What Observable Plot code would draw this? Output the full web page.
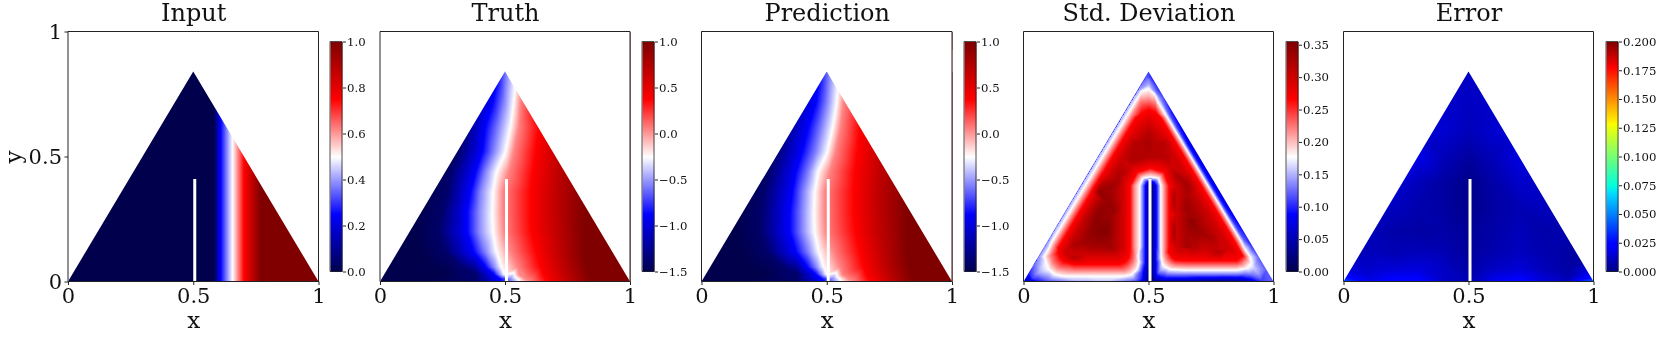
<!DOCTYPE html>
<html>
<head>
<meta charset="utf-8">
<script src="https://cdn.jsdelivr.net/npm/d3@7"></script>
<script src="https://cdn.jsdelivr.net/npm/@observablehq/plot@0.6"></script>
<style>
html,body{margin:0;padding:0;background:#fff;width:1660px;height:337px;overflow:hidden}
#root{position:relative;width:1660px;height:337px;filter:blur(.35px)}
#root svg{position:absolute;top:0;background:transparent;overflow:visible}
</style>
</head>
<body>
<div id="root"></div>
<script>
const titles = ["Input", "Truth", "Prediction", "Std. Deviation", "Error"];
const axisTicks = [0, 0.5, 1];
const triangle = [{x: 0, y: 0}, {x: 0.5, y: 0.84}, {x: 1, y: 0}];
const slit = [{x1: 0.5, x2: 0.512, y1: 0, y2: 0.41}];

// Input: depends on x only
const inputY = [0, 1];
const inputX = [0, 0.58, 0.607, 0.655, 0.70, 0.767, 1];
const inputV = [0, 0, 0.25, 0.5, 0.75, 1, 1];

// Truth / Prediction: x where each level is reached, row by row (first entry = y)
const fieldLevels = [-1.5, -1.5, -1.4, -0.875, -0.55, -0.25, 0.05, 0.375, 0.7, 1, 1];
const truthRows = [
  [.84, 0,.24,.33,.47,.505,.545,.59,.66,.74,.84,1],
  [.72, 0,.22,.34,.45,.495,.533,.56,.62,.72,.83,1],
  [.62, 0,.2,.33,.42,.473,.52,.553,.633,.72,.83,1],
  [.52, 0,.2,.31,.407,.453,.50,.533,.62,.72,.83,1],
  [.44, 0,.18,.28,.38,.42,.464,.513,.61,.713,.83,1],
  [.36, 0,.16,.267,.36,.40,.45,.49,.60,.707,.827,1],
  [.28, 0,.15,.247,.347,.393,.447,.49,.60,.707,.82,1],
  [.20, 0,.14,.233,.347,.393,.45,.495,.604,.713,.813,1],
  [.12, 0,.16,.26,.373,.42,.464,.52,.623,.72,.813,1],
  [.06, 0,.2,.32,.42,.453,.483,.547,.64,.733,.827,1],
  [.03, 0,.26,.38,.455,.475,.495,.555,.65,.74,.835,1],
  [.012, 0,.2,.38,.48,.52,.55,.58,.66,.75,.84,1],
  [0, 0,.1,.35,.48,.525,.555,.60,.67,.755,.85,1]
];
const predictionRows = [
  [.84, 0,.24,.33,.47,.51,.55,.6,.67,.75,.85,1],
  [.72, 0,.22,.33,.455,.50,.538,.565,.63,.72,.83,1],
  [.62, 0,.2,.31,.425,.478,.522,.553,.63,.72,.83,1],
  [.52, 0,.19,.29,.40,.455,.50,.533,.62,.72,.825,1],
  [.44, 0,.17,.265,.375,.425,.463,.51,.61,.715,.825,1],
  [.36, 0,.15,.245,.36,.405,.45,.49,.605,.71,.825,1],
  [.28, 0,.14,.235,.35,.40,.447,.49,.605,.71,.82,1],
  [.20, 0,.14,.233,.35,.40,.449,.495,.613,.713,.82,1],
  [.12, 0,.16,.26,.375,.425,.466,.525,.63,.725,.82,1],
  [.06, 0,.2,.32,.42,.455,.485,.55,.645,.735,.83,1],
  [.03, 0,.26,.38,.455,.477,.497,.56,.655,.745,.835,1],
  [.012, 0,.2,.38,.48,.52,.55,.585,.665,.755,.845,1],
  [0, 0,.1,.35,.48,.525,.555,.605,.675,.76,.855,1]
];

// Std. deviation, read in sections across each feature.
// Left edge: first entry = edge height s, then values at inward distance stdLeftD
const stdLeftD = [0, .0137, .03, .048, .08, .12];
const stdLeftRows = [
  [.16,.14,.1775,.22,.266,.30,.315],
  [.22,.15,.1775,.22,.266,.305,.33],
  [.30,.15,.1775,.22,.266,.31,.345],
  [.38,.15,.1775,.22,.266,.31,.34],
  [.46,.15,.1775,.22,.266,.305,.325],
  [.54,.15,.1775,.22,.266,.30,.32],
  [.62,.15,.1775,.22,.266,.295,.32],
  [.68,.15,.1775,.22,.266,.285],
  [.74,.15,.1775,.22],
  [.77,.14,.1775]
];
// Right edge: same, with its own distances
const stdRightD = [0, .017, .03, .04, .052, .085, .125];
const stdRightRows = [
  [.18,.10,.12,.1775,.22,.266,.30,.315],
  [.24,.085,.11,.1775,.22,.266,.30,.325],
  [.32,.07,.10,.1775,.22,.266,.30,.325],
  [.40,.07,.10,.1775,.22,.266,.30,.325],
  [.48,.07,.10,.1775,.22,.266,.30,.315],
  [.56,.07,.10,.1775,.22,.266,.30,.315],
  [.62,.08,.11,.1775,.22,.266,.295,.315],
  [.68,.09,.12,.1775,.22,.266,.285],
  [.74,.11,.14,.1775,.22],
  [.77,.10,.13]
];
// Bottom edge: first entry = x, then values at height y
const stdBottomLeftY = [0, .01, .023, .045, .07, .11, .15];
const stdBottomLeftRows = [
  [.20,.14,.16,.1775,.22,.266,.30,.325],
  [.25,.145,.16,.1775,.22,.266,.30,.33],
  [.30,.15,.165,.1775,.22,.266,.30,.335],
  [.35,.15,.165,.1775,.22,.266,.30,.33]
];
const stdBottomRightY = [0, .012, .03, .047, .065, .085, .13];
const stdBottomRightRows = [
  [.65,.03,.08,.13,.1775,.22,.266,.30],
  [.72,.02,.07,.13,.1775,.22,.266,.30],
  [.79,.01,.065,.13,.1775,.22,.266,.30],
  [.85,.03,.07,.13,.1775,.22,.266]
];
// Both sides of the slit: first entry = y, then values at x
const stdSlitLeftX = [.35, .395, .425, .44, .463, .483, .493, .5];
const stdSlitRightX = [.512, .52, .532, .547, .563, .58, .61, .655];
const stdSlitY = [.385, .33, .27, .2, .14];
const stdSlitLeftV = [.335, .30, .266, .22, .1775, .10, .06, .03];
const stdSlitRightV = [.03, .06, .10, .1775, .22, .266, .30, .33];
// Single readings (x, y, value): corners, apex, slit tip, interior
const stdCorners = [
  [0,0,.04],[.02,.003,.07],[.06,.004,.10],[.1,.006,.125],
  [.02,.034,.10],[.04,.068,.125],[.06,.10,.14],
  [.035,.015,.11],[.053,.034,.14],[.07,.055,.16],
  [.088,.08,.1775],[.10,.05,.1775],[.125,.03,.1775],[.15,.024,.1775],
  [.105,.105,.22],[.115,.075,.22],[.135,.055,.22],
  [.135,.115,.266],[.145,.095,.266],[.16,.08,.266],[.17,.13,.30],
  [1,0,.12],[.98,.003,.12],[.95,.005,.11],[.9,.004,.07],
  [.97,.05,.12],[.94,.10,.12],[.91,.15,.10],
  [.94,.03,.14],[.91,.03,.13],[.88,.03,.125],[.92,.055,.16],
  [.91,.075,.1775],[.89,.055,.1775],[.905,.10,.1775],[.885,.13,.1775],
  [.89,.09,.22],[.87,.07,.22],[.875,.105,.266],
  [.40,0,.13],[.44,0,.11],[.47,0,.08],[.49,0,.03],[.5,0,.02],
  [.44,.012,.14],[.47,.014,.10],[.49,.012,.05],[.5,.012,.02],
  [.47,.04,.11],[.485,.04,.07],[.5,.04,.03],
  [.483,.08,.10],[.493,.08,.06],[.5,.08,.03],
  [.40,.023,.1775],[.432,.03,.1775],[.452,.05,.1775],[.461,.08,.1775],
  [.40,.045,.22],[.42,.055,.22],[.437,.075,.22],[.443,.10,.22],
  [.38,.07,.266],[.405,.08,.266],[.42,.10,.266],[.37,.11,.30],[.39,.135,.30],
  [.512,0,.02],[.53,0,.03],[.56,0,.03],[.6,0,.03],
  [.512,.012,.02],[.53,.012,.06],[.56,.012,.08],[.6,.012,.08],
  [.512,.035,.03],[.525,.035,.08],[.54,.04,.13],[.6,.03,.13],
  [.512,.08,.03],[.52,.08,.06],[.532,.08,.10],
  [.548,.10,.1775],[.553,.075,.1775],[.565,.06,.1775],[.585,.05,.1775],
  [.563,.11,.22],[.57,.09,.22],[.585,.075,.22],[.605,.067,.22],
  [.578,.12,.266],[.59,.10,.266],[.605,.088,.266],[.61,.14,.30],[.62,.125,.30]
];
const stdApex = [
  [.5,.84,.11],[.49,.82,.12],[.51,.82,.10],[.5,.81,.13],[.5,.79,.15],
  [.5,.773,.1775],[.475,.765,.1775],[.52,.755,.1775],
  [.5,.73,.22],[.5,.69,.266],[.47,.675,.266],[.53,.675,.266],[.5,.65,.29],[.5,.6,.315],[.5,.553,.328],[.5,.5,.32]
];
const stdSlitTip = [
  [.4975,.3935,.06],[.4904,.4006,.10],[.476,.415,.1775],[.453,.438,.266],[.428,.463,.30],
  [.506,.397,.06],[.506,.407,.10],[.506,.42,.1775],[.506,.455,.266],[.506,.485,.30],
  [.5145,.3935,.06],[.5215,.4006,.10],[.537,.415,.1775],[.56,.438,.266],[.584,.463,.30]
];
const stdInterior = [
  [.30,.20,.35],[.333,.207,.352],[.30,.28,.345],[.36,.28,.34],[.28,.14,.33],[.33,.135,.33],
  [.36,.36,.325],[.30,.36,.34],[.38,.42,.325],[.43,.50,.32],[.44,.56,.315],[.56,.56,.315],
  [.667,.247,.345],[.60,.20,.33],[.65,.30,.335],[.70,.20,.335],[.68,.135,.315],[.74,.15,.31],
  [.60,.33,.325],[.62,.42,.325],[.58,.50,.315]
];

// Error: value table on a fixed grid
const errorX = [0, .1, .2, .3, .4, .47, .5, .53, .6, .7, .8, .9, 1];
const errorRows = [
  [.84, .012,.012,.012,.012,.012,.012,.013,.012,.012,.012,.012,.012,.012],
  [.70, .012,.012,.012,.012,.013,.012,.011,.012,.013,.012,.012,.012,.012],
  [.60, .014,.014,.014,.014,.014,.011,.010,.011,.014,.015,.014,.014,.014],
  [.50, .018,.018,.018,.018,.010,.007,.005,.007,.010,.017,.017,.017,.017],
  [.40, .014,.014,.016,.010,.006,.003,.002,.003,.007,.013,.012,.012,.012],
  [.30, .012,.012,.011,.008,.006,.003,.002,.003,.006,.009,.011,.011,.011],
  [.20, .010,.010,.007,.006,.007,.005,.003,.005,.007,.010,.007,.008,.008],
  [.12, .010,.010,.009,.010,.009,.006,.004,.006,.008,.011,.008,.006,.006],
  [.05, .016,.013,.015,.016,.012,.008,.006,.008,.012,.015,.010,.006,.020],
  [.015, .030,.016,.022,.022,.012,.010,.008,.010,.018,.022,.014,.009,.030],
  [0, .045,.018,.025,.025,.013,.010,.009,.010,.019,.025,.017,.010,.048]
];

// Colour maps
const seismicStops = [0, .25, .5, .75, 1];
const seismicColors = ["rgb(0,0,77)", "rgb(0,0,255)", "rgb(255,255,255)", "rgb(255,0,0)", "rgb(128,0,0)"];
const jetStops = [0, .11, .125, .34, .35, .375, .64, .65, .66, .89, .91, 1];
const jetColors = ["rgb(0,0,128)", "rgb(0,0,255)", "rgb(0,0,255)", "rgb(0,218,255)", "rgb(0,229,247)", "rgb(0,255,222)", "rgb(247,255,0)", "rgb(255,245,0)", "rgb(255,234,0)", "rgb(255,0,0)", "rgb(230,0,0)", "rgb(128,0,0)"];

// Colourbar ranges and ticks
const barDomains = [[0, 1], [-1.5, 1], [-1.5, 1], [0, 0.355], [0, 0.2]];
const barTicks = [
  [0, .2, .4, .6, .8, 1],
  [-1.5, -1, -.5, 0, .5, 1],
  [-1.5, -1, -.5, 0, .5, 1],
  [0, .05, .1, .15, .2, .25, .3, .35],
  [0, .025, .05, .075, .1, .125, .15, .175, .2]
];
const barDigits = [1, 1, 1, 2, 3];

// Layout
const spineLeft  = [68, 380, 701.5, 1023.5, 1343.5];
const spineRight = [318.5, 630, 952, 1273.5, 1593.5];
const barLeft    = [330, 642, 964, 1286, 1606];
const axisTop = 31.5, axisBottom = 281.5, barTop = 41.5, barBottom = 271.5, barWidth = 12;
const serif = "DejaVu Serif";
const ink = "#222";

const inputPoints = inputY.flatMap(y => inputX.map((x, i) => ({x, y, v: inputV[i]})));
const levelPoints = rows => rows.flatMap(r => r.slice(1).map((x, i) => ({x, y: r[0], v: fieldLevels[i]})));
const gridPoints = rows => rows.flatMap(r => errorX.map((x, i) => ({x, y: r[0], v: r[i + 1]})));
// the sloped edges run at slope .84/.5; sections are read square to them
const edgeRun = 0.5 / 0.84, normalX = 0.859, normalY = 0.511;
const stdPoints = [
  ...stdLeftRows.flatMap(r => r.slice(1).map((v, i) => ({x: edgeRun * r[0] + normalX * stdLeftD[i], y: r[0] - normalY * stdLeftD[i], v}))),
  ...stdRightRows.flatMap(r => r.slice(1).map((v, i) => ({x: 1 - edgeRun * r[0] - normalX * stdRightD[i], y: r[0] - normalY * stdRightD[i], v}))),
  ...stdBottomLeftRows.flatMap(r => r.slice(1).map((v, i) => ({x: r[0], y: stdBottomLeftY[i], v}))),
  ...stdBottomRightRows.flatMap(r => r.slice(1).map((v, i) => ({x: r[0], y: stdBottomRightY[i], v}))),
  ...stdSlitY.flatMap(y => stdSlitLeftX.map((x, i) => ({x, y, v: stdSlitLeftV[i]}))),
  ...stdSlitY.flatMap(y => stdSlitRightX.map((x, i) => ({x, y, v: stdSlitRightV[i]}))),
  ...[...stdCorners, ...stdApex, ...stdSlitTip, ...stdInterior].map(([x, y, v]) => ({x, y, v}))
];
const fields = [inputPoints, levelPoints(truthRows), levelPoints(predictionRows), stdPoints, gridPoints(errorRows)];

function colorScale(k) {
  const [a, b] = barDomains[k];
  const stops = k === 4 ? jetStops : seismicStops;
  return {type: "linear", domain: stops.map(t => a + t * (b - a)), range: k === 4 ? jetColors : seismicColors, interpolate: "rgb", clamp: true};
}

const root = document.getElementById("root");
function place(svg, left) { svg.style.left = left + "px"; root.appendChild(svg); }

titles.forEach((title, k) => {
  const L = spineLeft[k], R = spineRight[k];
  const origin = k === 0 ? 0 : Math.floor(L) - 30;
  const axisStyle = {tickSize: 3.5, stroke: ink, fontFamily: serif, fontSize: 21, color: "#111"};
  const marks = [
    Plot.raster(fields[k], {x: "x", y: "y", fill: "v", interpolate: "barycentric"}),
    Plot.areaY(triangle, {x: "x", y1: "y", y2: 1, fill: "white"}),
    Plot.rect(slit, {x1: "x1", x2: "x2", y1: "y1", y2: "y2", fill: "white"}),
    Plot.ruleX([0, 1], {stroke: ink, strokeWidth: 1, dx: -0.5}),
    Plot.ruleY([0, 1], {stroke: ink, strokeWidth: 1, dy: -0.5}),
    Plot.axisX(axisTicks, {...axisStyle, anchor: "bottom", label: null, tickPadding: 3, tickFormat: d => String(d), fill: "#111"}),
    k === 0
      ? Plot.axisY(axisTicks, {...axisStyle, anchor: "left", label: null, tickPadding: 3, tickFormat: d => String(d), fill: "#111"})
      : Plot.tickY(axisTicks, {y: d => d, stroke: ink, insetRight: 250, dx: -0.5}),
    Plot.text([title], {text: d => d, frameAnchor: "top", lineAnchor: "bottom", dy: -11, fontFamily: serif, fontSize: 24, fill: "#111"}),
    Plot.text(["x"], {text: d => d, frameAnchor: "bottom", lineAnchor: "top", dy: 30, fontFamily: serif, fontSize: 23, fontWeight: 500, fill: "#111"})
  ];
  if (k === 0) marks.push(Plot.text(["y"], {text: d => d, frameAnchor: "left", textAnchor: "middle", lineAnchor: "middle", rotate: -90, dx: -55, fontFamily: serif, fontSize: 23, fontWeight: 500, fill: "#111"}));
  const svg = Plot.plot({
    width: R + 14 - origin, height: 337,
    marginLeft: L - origin, marginRight: 14, marginTop: axisTop, marginBottom: 337 - axisBottom,
    x: {domain: [0, 1], axis: null},
    y: {domain: [0, 1], axis: null},
    color: colorScale(k),
    style: {background: "transparent", overflow: "visible"},
    marks
  });
  place(svg, origin);

  const [lo, hi] = barDomains[k];
  const bar = Plot.plot({
    width: barWidth + 50, height: 337,
    marginLeft: 0, marginRight: 50, marginTop: barTop, marginBottom: 337 - barBottom,
    x: {domain: [0, 1], axis: null},
    y: {domain: [lo, hi], axis: null},
    color: colorScale(k),
    style: {background: "transparent", overflow: "visible"},
    marks: [
      Plot.raster({x1: 0, x2: 1, y1: lo, y2: hi, fill: (x, y) => y}),
      Plot.ruleX([0, 1], {stroke: ink, strokeWidth: 0.8, dx: -0.5}),
      Plot.ruleY([lo, hi], {stroke: ink, strokeWidth: 0.8, dy: -0.5}),
      Plot.axisY(barTicks[k], {anchor: "right", label: null, tickSize: 3, tickPadding: 1.5, stroke: ink, fontFamily: serif, fontSize: 11.7, fill: "#111",
        tickFormat: d => d3.format(`.${barDigits[k]}f`)(d).replace("-", "\u2212")})
    ]
  });
  place(bar, barLeft[k]);
});
</script>
</body>
</html>
